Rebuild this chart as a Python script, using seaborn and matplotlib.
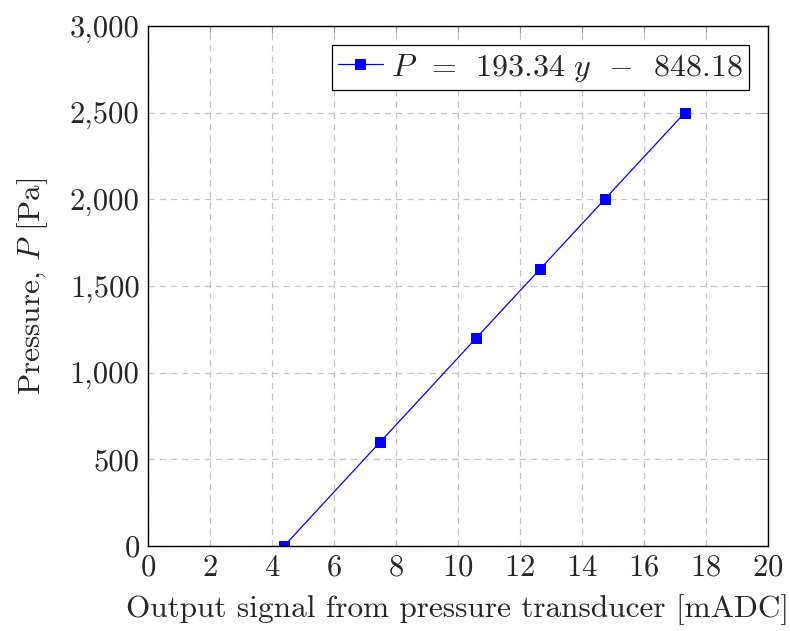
import matplotlib
matplotlib.use("Agg")
import matplotlib.pyplot as plt
import matplotlib.ticker as mticker
import seaborn as sns
import pandas as pd

# Calibration points: transducer output vs applied pressure
signal_madc = [4.39, 7.49, 10.59, 12.66, 14.73, 17.32]
pressure_pa = [0, 600, 1200, 1600, 2000, 2500]
legend_label = r"$P\ \,=\ \,193.34\ y\ \,-\ \,848.18$"

sns.set_theme(style="white")
plt.rcParams.update({
    "font.family": "serif",
    "font.serif": ["cmr10"],
    "mathtext.fontset": "cm",
    "axes.formatter.use_mathtext": True,
    "axes.unicode_minus": False,
})

df = pd.DataFrame({"signal": signal_madc, "pressure": pressure_pa})

fig = plt.figure(figsize=(7.9, 6.31), dpi=100)
ax = fig.add_axes([148 / 790, 1 - 546 / 631, 620 / 790, 520 / 631])

sns.lineplot(data=df, x="signal", y="pressure", ax=ax, color="blue",
             marker="s", markersize=6.5, markeredgecolor="blue",
             linewidth=0.9, label=legend_label)

ax.set_xlim(0, 20)
ax.set_ylim(0, 3000)
ax.xaxis.set_major_locator(mticker.MultipleLocator(2))
ax.yaxis.set_major_locator(mticker.MultipleLocator(500))
ax.yaxis.set_major_formatter(mticker.FuncFormatter(lambda v, p: f"{int(v):,}"))

ax.grid(True, color="#c4c4c4", linestyle=(0, (5, 4)), linewidth=0.9)
for s in ax.spines.values():
    s.set_color("black")
    s.set_linewidth(1.0)

ax.tick_params(direction="in", length=5, width=0.8, color="#999999",
               top=True, right=True, labelsize=22, pad=6)

ax.set_xlabel("Output signal from pressure transducer [mADC]", fontsize=22.5, labelpad=9)
ax.set_ylabel("Pressure, $P$ [Pa]", fontsize=22.5, labelpad=14)

leg = ax.legend(loc="upper right", fontsize=23, frameon=True, fancybox=False,
                framealpha=1, edgecolor="black", borderpad=0.2,
                handlelength=1.4, handletextpad=0.25, borderaxespad=0.6)
leg.get_frame().set_linewidth(0.9)

fig.savefig("out.png", dpi=100)
